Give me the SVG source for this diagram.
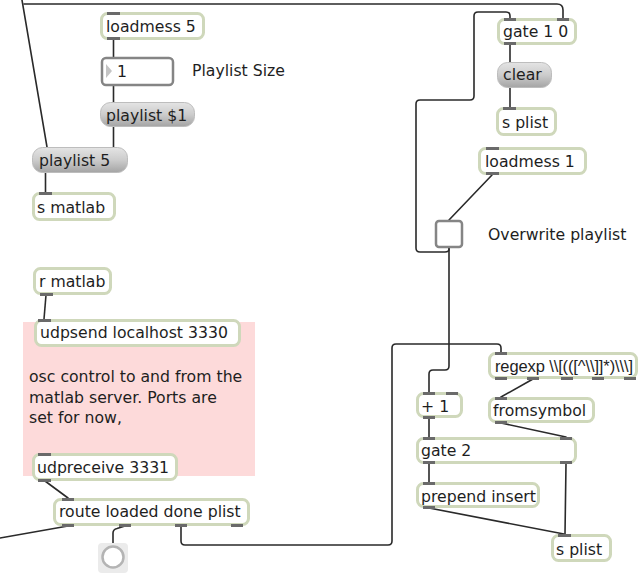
<svg xmlns="http://www.w3.org/2000/svg" width="642" height="581" viewBox="0 0 642 581">
  <defs>
    <linearGradient id="msgFill" x1="0" y1="0" x2="0" y2="1">
      <stop offset="0" stop-color="#e4e4e4"/>
      <stop offset="0.5" stop-color="#cccccc"/>
      <stop offset="1" stop-color="#a4a4a4"/>
    </linearGradient>
    <style>
      text { font-family: "DejaVu Sans", "Liberation Sans", sans-serif; font-size: 15.7px; fill: #1e1e1e; }
      text.narrow { font-family: "Liberation Sans", "DejaVu Sans", sans-serif; font-size: 16.5px; }
      .obj { fill: #ffffff; stroke: #cfd8bb; stroke-width: 3; }
      .msg { fill: url(#msgFill); stroke: #bdbdbd; stroke-width: 1; }
      .tab { fill: #6a6a6a; }
      .cord { fill: none; stroke: #2a2a2a; stroke-width: 1.6; stroke-linecap: round; stroke-linejoin: round; }
      .ui { fill: #ffffff; stroke: #858585; stroke-width: 2.5; }
    </style>
  </defs>

  <rect width="642" height="581" fill="#ffffff"/>

  <!-- comment panel behind the udp objects -->
  <rect x="23" y="322" width="232" height="154" fill="#fddada"/>

  <!-- patch cords -->
  <g id="cords">
    <line class="cord" x1="22" y1="0" x2="47" y2="147"/>
    <path class="cord" d="M24,4 L557,4 Q563,4 563,10 L563,18"/>
    <line class="cord" x1="113.5" y1="40" x2="113.5" y2="57"/>
    <line class="cord" x1="113.5" y1="86" x2="113.5" y2="102"/>
    <line class="cord" x1="113.5" y1="127" x2="113.5" y2="147"/>
    <line class="cord" x1="45.5" y1="173" x2="45.5" y2="192"/>
    <path class="cord" d="M449,248 L449,249 Q449,252 445,252 L420,252 Q416,252 416,248 L416,104 Q416,100 420,100 L470,100 Q474,100 474,96 L474,16 Q474,12 478,12 L506,12 Q510,12 510,16 L510,18"/>
    <line class="cord" x1="510" y1="45" x2="510" y2="62"/>
    <line class="cord" x1="510" y1="88" x2="510" y2="107"/>
    <line class="cord" x1="492" y1="175" x2="449" y2="220"/>
    <path class="cord" d="M449,248 L449,366 Q449,370 445,370 L433,370 Q429,370 429,374 L429,392"/>
    <line class="cord" x1="46" y1="295" x2="44" y2="319"/>
    <line class="cord" x1="45" y1="481" x2="68" y2="498"/>
    <line class="cord" x1="68" y1="526" x2="0" y2="538"/>
    <path class="cord" d="M125,526 L117,528.5 Q113,529.5 113,533 L113,545"/>
    <path class="cord" d="M181,526 L181,541 Q181,545 185,545 L388,545 Q392,545 392,541 L392,348 Q392,344 396,344 L497,344 Q501,344 501,348 L501,352"/>
    <line class="cord" x1="533" y1="379" x2="501" y2="397"/>
    <line class="cord" x1="501" y1="423" x2="566" y2="437"/>
    <line class="cord" x1="429" y1="418" x2="429" y2="437"/>
    <line class="cord" x1="429" y1="464" x2="429" y2="482"/>
    <line class="cord" x1="429" y1="508" x2="564" y2="534"/>
    <line class="cord" x1="566" y1="464" x2="565" y2="534"/>
  </g>

  <!-- upper left: playlist size chain -->
  <g id="loadmess5">
    <rect class="obj" x="101.5" y="13.5" width="102" height="25" rx="6"/>
    <rect class="tab" x="107" y="12" width="13" height="3"/>
    <rect class="tab" x="107" y="37" width="13" height="3"/>
    <text x="106" y="32">loadmess 5</text>
  </g>
  <g id="numbox">
    <rect class="ui" x="102" y="58" width="71" height="27" rx="4"/>
    <polygon points="106,64 112,71 106,78" fill="#c4c4c4"/>
    <text x="117" y="77">1</text>
  </g>
  <text x="192" y="76">Playlist Size</text>
  <g id="msg-playlist-arg">
    <rect class="msg" x="100.5" y="102.5" width="94" height="24" rx="10"/>
    <text x="106" y="121">playlist $1</text>
  </g>
  <g id="msg-playlist5">
    <rect class="msg" x="32.5" y="147.5" width="95" height="25" rx="10"/>
    <text x="39" y="166">playlist 5</text>
  </g>
  <g id="s-matlab">
    <rect class="obj" x="33.5" y="193.5" width="81" height="26" rx="6"/>
    <rect class="tab" x="39" y="192" width="13" height="3"/>
    <text x="37" y="213">s matlab</text>
  </g>

  <!-- upper right: overwrite switch -->
  <g id="gate10">
    <rect class="obj" x="498.5" y="19.5" width="77" height="24" rx="6"/>
    <rect class="tab" x="504" y="18" width="12" height="3"/>
    <rect class="tab" x="557" y="18" width="12" height="3"/>
    <rect class="tab" x="504" y="42" width="12" height="3"/>
    <text x="503" y="37">gate 1 0</text>
  </g>
  <g id="msg-clear">
    <rect class="msg" x="497.5" y="62.5" width="54" height="25" rx="10"/>
    <text x="503" y="80">clear</text>
  </g>
  <g id="s-plist-top">
    <rect class="obj" x="497.5" y="108.5" width="58" height="26" rx="6"/>
    <rect class="tab" x="503" y="107" width="13" height="3"/>
    <text x="502" y="128">s plist</text>
  </g>
  <g id="loadmess1">
    <rect class="obj" x="479.5" y="148.5" width="106" height="25" rx="6"/>
    <rect class="tab" x="486" y="147" width="13" height="3"/>
    <rect class="tab" x="486" y="172" width="13" height="3"/>
    <text x="485" y="167">loadmess 1</text>
  </g>
  <g id="toggle">
    <rect class="ui" x="436" y="221" width="26" height="26" rx="3"/>
  </g>
  <text x="488" y="240">Overwrite playlist</text>

  <!-- lower left: udp link -->
  <g id="r-matlab">
    <rect class="obj" x="34.5" y="268.5" width="76" height="25" rx="6"/>
    <rect class="tab" x="40" y="293" width="13" height="3"/>
    <text x="39" y="287">r matlab</text>
  </g>
  <g id="udpsend">
    <rect class="obj" x="35.5" y="320.5" width="204" height="25" rx="6"/>
    <rect class="tab" x="38" y="319" width="13" height="3"/>
    <text x="40" y="338">udpsend localhost 3330</text>
  </g>
  <g id="comment">
    <text x="29" y="382">osc control to and from the</text>
    <text x="29" y="402.5">matlab server. Ports are</text>
    <text x="29" y="423">set for now,</text>
  </g>
  <g id="udpreceive">
    <rect class="obj" x="33.5" y="454.5" width="143" height="25" rx="6"/>
    <rect class="tab" x="38" y="453" width="13" height="3"/>
    <rect class="tab" x="38" y="479" width="13" height="3"/>
    <text x="37" y="473">udpreceive 3331</text>
  </g>
  <g id="route">
    <rect class="obj" x="54.5" y="499.5" width="194" height="25" rx="6"/>
    <rect class="tab" x="62" y="498" width="12" height="3"/>
    <rect class="tab" x="62" y="524" width="12" height="3"/>
    <rect class="tab" x="119" y="524" width="12" height="3"/>
    <rect class="tab" x="175" y="524" width="12" height="3"/>
    <rect class="tab" x="231" y="524" width="12" height="3"/>
    <text x="59" y="517">route loaded done plist</text>
  </g>
  <g id="bang">
    <rect x="98" y="543" width="30" height="30" rx="4" fill="#ebebeb"/>
    <circle cx="113" cy="557" r="10.5" fill="#ffffff" stroke="#b4b4b4" stroke-width="2.5"/>
  </g>

  <!-- lower right: playlist insertion -->
  <g id="regexp">
    <rect class="obj" x="489.5" y="353.5" width="147" height="24" rx="6"/>
    <rect class="tab" x="495" y="352" width="12" height="3"/>
    <rect class="tab" x="495" y="377" width="12" height="3"/>
    <rect class="tab" x="527" y="377" width="12" height="3"/>
    <rect class="tab" x="561" y="377" width="12" height="3"/>
    <rect class="tab" x="592" y="377" width="12" height="3"/>
    <rect class="tab" x="624" y="377" width="12" height="3"/>
    <text class="narrow" x="495" y="372" textLength="138" lengthAdjust="spacing">regexp \\[(([^\\]]*)\\\]</text>
  </g>
  <g id="plus1">
    <rect class="obj" x="417.5" y="393.5" width="44" height="23" rx="6"/>
    <rect class="tab" x="423" y="392" width="12" height="3"/>
    <rect class="tab" x="446" y="392" width="12" height="3"/>
    <rect class="tab" x="423" y="416" width="12" height="3"/>
    <text x="421" y="412">+ 1</text>
  </g>
  <g id="fromsymbol">
    <rect class="obj" x="489.5" y="398.5" width="104" height="23" rx="6"/>
    <rect class="tab" x="495" y="397" width="12" height="3"/>
    <rect class="tab" x="495" y="421" width="12" height="3"/>
    <text x="493" y="416">fromsymbol</text>
  </g>
  <g id="gate2">
    <rect class="obj" x="417.5" y="438.5" width="158" height="24" rx="6"/>
    <rect class="tab" x="423" y="437" width="12" height="3"/>
    <rect class="tab" x="560" y="437" width="12" height="3"/>
    <rect class="tab" x="423" y="461" width="12" height="3"/>
    <rect class="tab" x="560" y="461" width="12" height="3"/>
    <text x="421" y="456">gate 2</text>
  </g>
  <g id="prepend">
    <rect class="obj" x="417.5" y="483.5" width="121" height="23" rx="6"/>
    <rect class="tab" x="423" y="482" width="12" height="3"/>
    <rect class="tab" x="423" y="506" width="12" height="3"/>
    <text x="421" y="502">prepend insert</text>
  </g>
  <g id="s-plist-bottom">
    <rect class="obj" x="552.5" y="535.5" width="58" height="25" rx="6"/>
    <rect class="tab" x="558" y="534" width="13" height="3"/>
    <text x="556" y="555">s plist</text>
  </g>
</svg>
